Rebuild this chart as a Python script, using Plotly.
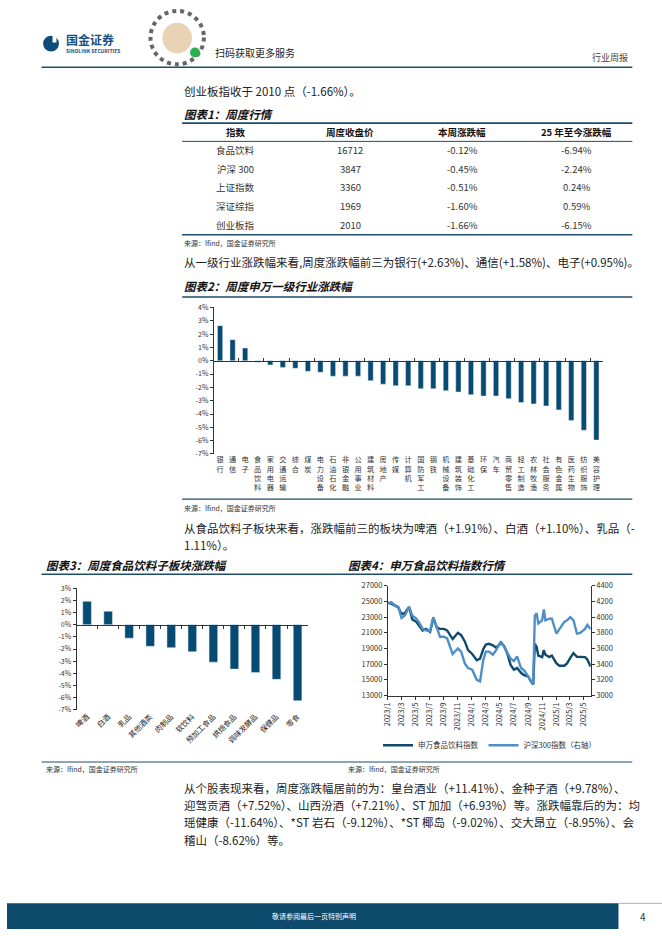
import plotly.graph_objects as go

W, H = 662, 936


def px(x):
    return x / W


def py(y):
    return 1 - y / H


FONT = "Noto Sans CJK SC"
BAR = "#074a72"
LINEC = "#1d4d6b"
TXT = "#222222"

# ---------------- data ----------------
TABLE_HEADERS = ["指数", "周度收盘价", "本周涨跌幅", "25 年至今涨跌幅"]
TABLE_INDEX = ["食品饮料", "沪深 300", "上证指数", "深证综指", "创业板指"]
TABLE_CLOSE = ["16712", "3847", "3360", "1969", "2010"]
TABLE_WEEK = ["-0.12%", "-0.45%", "-0.51%", "-1.60%", "-1.66%"]
TABLE_YTD = ["-6.94%", "-2.24%", "0.24%", "0.59%", "-6.15%"]

INDUSTRIES = ["银行", "通信", "电子", "食品饮料", "家用电器", "交通运输", "综合", "煤炭",
              "电力设备", "石油石化", "非银金融", "公用事业", "建筑材料", "房地产", "传媒",
              "计算机", "国防军工", "钢铁", "机械设备", "建筑装饰", "基础化工", "环保", "汽车",
              "商贸零售", "轻工制造", "农林牧渔", "社会服务", "有色金属", "医药生物", "纺织服饰",
              "美容护理"]
IND_CHG = [2.63, 1.58, 0.95, -0.12, -0.32, -0.50, -0.57, -0.80,
           -0.87, -1.16, -1.16, -1.16, -1.50, -1.76, -1.88,
           -1.88, -2.10, -2.10, -2.25, -2.35, -2.55, -2.65, -2.65,
           -2.85, -3.14, -3.24, -3.39, -3.69, -4.48, -5.22, -5.96]
IND_YTICKS = [4, 3, 2, 1, 0, -1, -2, -3, -4, -5, -6, -7]
IND_YLABELS = ["4%", "3%", "2%", "1%", "0%", "-1%", "-2%", "-3%", "-4%", "-5%", "-6%", "-7%"]

SUBSECTORS = ["啤酒", "白酒", "乳品", "其他酒类", "肉制品", "软饮料", "预加工食品",
              "烘焙食品", "调味发酵品", "保健品", "零食"]
SUB_CHG = [1.91, 1.10, -1.11, -1.78, -1.89, -2.22, -3.08, -3.65, -3.92, -4.49, -6.24]
SUB_YTICKS = [3, 2, 1, 0, -1, -2, -3, -4, -5, -6, -7]
SUB_YLABELS = ["3%", "2%", "1%", "0%", "-1%", "-2%", "-3%", "-4%", "-5%", "-6%", "-7%"]

DATES = ["2023-01-03", "2023-01-16", "2023-02-01", "2023-02-15", "2023-03-01", "2023-03-15",
         "2023-04-03", "2023-04-17", "2023-05-04", "2023-05-15", "2023-06-01", "2023-06-15",
         "2023-07-03", "2023-07-17", "2023-08-01", "2023-08-15", "2023-09-01", "2023-09-15",
         "2023-10-09", "2023-10-23", "2023-11-01", "2023-11-15", "2023-12-01", "2023-12-15",
         "2024-01-02", "2024-01-22", "2024-02-05", "2024-02-19", "2024-03-01", "2024-03-15",
         "2024-04-01", "2024-04-15", "2024-05-06", "2024-05-20", "2024-06-03", "2024-06-17",
         "2024-07-01", "2024-07-15", "2024-08-01", "2024-08-15", "2024-09-02", "2024-09-13",
         "2024-09-23", "2024-09-30", "2024-10-08", "2024-10-15", "2024-11-01", "2024-11-08",
         "2024-11-15", "2024-12-02", "2024-12-13", "2025-01-02", "2025-01-15", "2025-02-05",
         "2025-02-17", "2025-03-03", "2025-03-17", "2025-04-01", "2025-04-15", "2025-05-06",
         "2025-05-16", "2025-05-30"]
FOOD_IDX = [24900, 24700, 24450, 24250, 23400, 23500,
            24300, 22700, 22400, 22000, 21300, 21500,
            21100, 22900, 21700, 21500, 21500, 21300,
            20200, 20700, 21000, 20700, 19900, 18800,
            18300, 17500, 17700, 18900, 19500, 19600,
            19400, 19100, 19700, 19300, 18300, 16900,
            16300, 16500, 15900, 15600, 15400, 14800,
            14400, 19600, 19200, 18100, 17900, 18800,
            18200, 17900, 18100, 17100, 16800, 16800,
            17100, 17800, 18400, 17950, 17900, 17900,
            17600, 16712]
HS300 = [4170, 4190, 4150, 4130, 3990, 4020,
         4130, 4020, 3980, 3940, 3850, 3830,
         3820, 4000, 3870, 3750, 3750, 3730,
         3530, 3580, 3600, 3560, 3410, 3350,
         3330, 3200, 3180, 3450, 3560, 3560,
         3520, 3580, 3690, 3620, 3550, 3470,
         3440, 3500, 3350, 3320, 3240, 3180,
         3140, 4020, 4050, 3920, 3960, 4100,
         3960, 3980, 3980, 3790, 3850, 3940,
         3960, 4000, 3960, 3790, 3800, 3850,
         3900, 3847]
DATE_TICKS = ["2023/1", "2023/3", "2023/5", "2023/7", "2023/9", "2023/11", "2024/1", "2024/3",
              "2024/5", "2024/7", "2024/9", "2024/11", "2025/1", "2025/3", "2025/5"]
LEFT_TICKS = [13000, 15000, 17000, 19000, 21000, 23000, 25000, 27000]
RIGHT_TICKS = [3000, 3200, 3400, 3600, 3800, 4000, 4200, 4400]

DATE_TICKVALS = ["%s-%02d-01" % (t.split("/")[0], int(t.split("/")[1])) for t in DATE_TICKS]

# ---------------- figure ----------------
fig = go.Figure()

fig.add_trace(go.Bar(x=INDUSTRIES, y=IND_CHG, marker_color=BAR, width=0.42,
                     xaxis="x", yaxis="y", showlegend=False, hoverinfo="x+y"))
fig.add_trace(go.Scatter(x=INDUSTRIES, y=[0] * len(INDUSTRIES), mode="markers",
                         marker=dict(opacity=0), xaxis="x5", yaxis="y",
                         showlegend=False, hoverinfo="skip"))
fig.add_trace(go.Bar(x=SUBSECTORS, y=SUB_CHG, marker_color=BAR, width=0.41,
                     xaxis="x2", yaxis="y2", showlegend=False))
fig.add_trace(go.Scatter(x=SUBSECTORS, y=[0] * len(SUBSECTORS), mode="markers",
                         marker=dict(opacity=0), xaxis="x6", yaxis="y2",
                         showlegend=False, hoverinfo="skip"))
fig.add_trace(go.Scatter(x=DATES, y=FOOD_IDX, mode="lines", name="申万食品饮料指数",
                         line=dict(color="#0f4a6b", width=2.4), xaxis="x3", yaxis="y3"))
fig.add_trace(go.Scatter(x=DATES, y=HS300, mode="lines", name="沪深300指数（右轴）",
                         line=dict(color="#4f8fc8", width=2.4), xaxis="x3", yaxis="y4"))

tickfont = dict(family=FONT, size=7, color="#333")

# chart 2 domain
c2x = [px(209), px(602)]
c2y = [py(453.3), py(305)]
zero2 = 305 + (4 / 11) * (453.3 - 305)
# chart 3 domain
c3x = [px(70.3), px(304.3)]
c3y = [py(712.3), py(589)]
zero3 = 589 + (3 / 10) * (712.3 - 589)
# chart 4 domain
c4x = [px(385), px(590)]
c4y = [py(697.7), py(586.7)]

vert_labels = ["<br>".join(list(n)) for n in INDUSTRIES]

fig.update_layout(
    width=W, height=H, margin=dict(l=0, r=0, t=0, b=0),
    paper_bgcolor="white", plot_bgcolor="white",
    font=dict(family=FONT, color=TXT),
    barmode="overlay",
    xaxis=dict(domain=c2x, anchor="y", type="category", range=[-0.5, 30.5],
               tickmode="array", tickvals=INDUSTRIES, ticktext=vert_labels,
               showline=False, ticks="", tickfont=dict(family=FONT, size=7.2, color="#333"),
               showgrid=False, zeroline=False, tickangle=0),
    xaxis5=dict(overlaying="x", anchor="free", position=py(zero2), type="category",
                range=[-0.5, 30.5], showline=True, linecolor="#333", linewidth=1,
                ticks="inside", ticklen=3, tickcolor="#333", tickson="boundaries",
                showticklabels=False, showgrid=False, zeroline=False),
    yaxis=dict(domain=c2y, anchor="x", range=[-7, 4], tickmode="array",
               tickvals=IND_YTICKS, ticktext=IND_YLABELS, showline=True,
               linecolor="#333", linewidth=1, ticks="outside", ticklen=3,
               tickcolor="#333", showgrid=False, zeroline=False, tickfont=tickfont),
    xaxis2=dict(domain=c3x, anchor="y2", type="category", range=[-0.5, 10.5],
                showline=False, ticks="", tickangle=-45,
                tickfont=dict(family=FONT, size=7.5, color="#222"),
                showgrid=False, zeroline=False),
    xaxis6=dict(overlaying="x2", anchor="free", position=py(zero3), type="category",
                range=[-0.5, 10.5], showline=True, linecolor="#333", linewidth=1,
                ticks="outside", ticklen=3, tickcolor="#333", tickson="boundaries",
                showticklabels=False, showgrid=False, zeroline=False),
    yaxis2=dict(domain=c3y, anchor="x2", range=[-7, 3], tickmode="array",
                tickvals=SUB_YTICKS, ticktext=SUB_YLABELS, showline=True,
                linecolor="#333", linewidth=1, ticks="outside", ticklen=3,
                tickcolor="#333", showgrid=False, zeroline=False, tickfont=tickfont),
    xaxis3=dict(domain=c4x, anchor="y3", type="date", range=["2023-01-01", "2025-05-31"],
                tickmode="array", tickvals=DATE_TICKVALS, ticktext=DATE_TICKS,
                tickangle=-90, showline=True, linecolor="#333", linewidth=1,
                ticks="outside", ticklen=3, tickcolor="#333", showgrid=False,
                zeroline=False, tickfont=dict(family=FONT, size=7.5, color="#333")),
    yaxis3=dict(domain=c4y, anchor="x3", range=[13000, 27000], tickmode="array",
                tickvals=LEFT_TICKS, tickformat="d", showline=True, linecolor="#333",
                linewidth=1, ticks="outside", ticklen=3, tickcolor="#333",
                showgrid=False, zeroline=False,
                tickfont=dict(family=FONT, size=7.5, color="#333")),
    yaxis4=dict(overlaying="y3", anchor="x3", side="right", range=[3000, 4400],
                tickmode="array", tickvals=RIGHT_TICKS, tickformat="d", showline=True,
                linecolor="#333", linewidth=1, ticks="outside", ticklen=3,
                tickcolor="#333", showgrid=False, zeroline=False,
                tickfont=dict(family=FONT, size=7.5, color="#333")),
    legend=dict(orientation="h", x=px(375), y=py(748), xanchor="left", yanchor="middle",
                font=dict(family=FONT, size=7.5, color="#333"), itemwidth=30,
                bgcolor="rgba(0,0,0,0)"),
)

shapes = []
annotations = []


def hline(x0, x1, y, width=1.0, color=LINEC):
    shapes.append(dict(type="line", xref="paper", yref="paper", x0=px(x0), x1=px(x1),
                       y0=py(y), y1=py(y), line=dict(color=color, width=width)))


def text(x, y, s, size=11.5, color=TXT, anchor="left", bold=False, italic=False):
    if italic:
        s = "<i>" + s + "</i>"
    if bold:
        s = "<b>" + s + "</b>"
    annotations.append(dict(xref="paper", yref="paper", x=px(x), y=py(y), text=s,
                            showarrow=False, xanchor=anchor, yanchor="middle",
                            font=dict(family=FONT, size=size, color=color)))


# ---------- header ----------
shapes.append(dict(type="circle", xref="paper", yref="paper", x0=px(36.5), x1=px(52.5),
                   y0=py(46), y1=py(30), fillcolor="#0d4c7a", line=dict(width=0)))
shapes.append(dict(type="rect", xref="paper", yref="paper", x0=px(46), x1=px(50),
                   y0=py(37), y1=py(30), fillcolor="white", line=dict(width=0)))
text(58, 34, "国金证券", size=12, color="#1a5080", bold=True)
text(58, 45.5, "SINOLINK SECURITIES", size=5, color="#1a5080", bold=True)
# QR mini-program badge
shapes.append(dict(type="circle", xref="paper", yref="paper", x0=px(145), x1=px(199),
                   y0=py(59), y1=py(5), fillcolor="white",
                   line=dict(color="#666", width=4, dash="dot")))
shapes.append(dict(type="circle", xref="paper", yref="paper", x0=px(157), x1=px(187),
                   y0=py(48), y1=py(17), fillcolor="#ead3b4", line=dict(width=0)))
shapes.append(dict(type="circle", xref="paper", yref="paper", x0=px(185), x1=px(195),
                   y0=py(52), y1=py(42), fillcolor="#2bb24c", line=dict(width=0)))
text(208, 47, "扫码获取更多服务", size=10, color="#222")
text(589, 52, "行业周报", size=9, color="#444")
hline(35, 632, 62, width=1.5)

# ---------- intro / table ----------
text(177, 86, "创业板指收于 2010 点（-1.66%）。", size=11.5)
text(177, 109, "图表1：周度行情", size=11.5, color="#111", bold=True, italic=True)
hline(177, 632, 118.5, width=1.6)
hline(177, 632, 137, width=1.0)
hline(177, 632, 231.5, width=1.6)
col_x = [231, 347, 460, 576]
for cx, h in zip(col_x, TABLE_HEADERS):
    text(cx, 127, h, size=9.5, color="#111", anchor="center", bold=True)
row_y = [146, 164.5, 183, 202.5, 221.5]
for i, ry in enumerate(row_y):
    for cx, col in zip(col_x, [TABLE_INDEX, TABLE_CLOSE, TABLE_WEEK, TABLE_YTD]):
        text(cx, ry, col[i], size=9.5, color="#333", anchor="center")
text(177, 240, "来源：Ifind，国金证券研究所", size=7, color="#333")

# ---------- chart 2 ----------
text(177, 259, "从一级行业涨跌幅来看,周度涨跌幅前三为银行(+2.63%)、通信(+1.58%)、电子(+0.95%)。",
     size=11.5)
text(177, 283, "图表2：周度申万一级行业涨跌幅", size=11.5, color="#111", bold=True, italic=True)
hline(177, 632, 294.5, width=1.5)
hline(177, 632, 499, width=1.2)
text(177, 508, "来源：Ifind，国金证券研究所", size=7, color="#333")

# ---------- chart 3 & 4 ----------
text(177, 528, "从食品饮料子板块来看，涨跌幅前三的板块为啤酒（+1.91%）、白酒（+1.10%）、乳品（-",
     size=11.5)
text(177, 545, "1.11%）。", size=11.5)
text(37, 566, "图表3：周度食品饮料子板块涨跌幅", size=11.5, color="#111", bold=True, italic=True)
text(343, 566, "图表4：申万食品饮料指数行情", size=11.5, color="#111", bold=True, italic=True)
hline(35, 632, 575, width=1.3)
hline(35, 632, 765, width=1.2)
text(37, 772, "来源：Ifind，国金证券研究所", size=7, color="#333")
text(343, 772, "来源：Ifind，国金证券研究所", size=7, color="#333")

# ---------- paragraph ----------
para = ["从个股表现来看，周度涨跌幅居前的为：皇台酒业（+11.41%）、金种子酒（+9.78%）、",
        "迎驾贡酒（+7.52%）、山西汾酒（+7.21%）、ST 加加（+6.93%）等。涨跌幅靠后的为：均",
        "瑶健康（-11.64%）、*ST 岩石（-9.12%）、*ST 椰岛（-9.02%）、交大昂立（-8.95%）、会",
        "稽山（-8.62%）等。"]
for i, line in enumerate(para):
    text(177, 791 + i * 17.5, line, size=11.5)

# ---------- footer ----------
shapes.append(dict(type="rect", xref="paper", yref="paper", x0=0, x1=px(618),
                   y0=py(934), y1=py(908), fillcolor="#0e4a6c", line=dict(width=0)))
hline(618, 662, 908, width=0.8, color="#999")
text(310, 921, "敬请参阅最后一页特别声明", size=7, color="white", anchor="center")
text(643, 921, "4", size=10, color="#333", anchor="center")

fig.update_layout(shapes=shapes, annotations=annotations)

fig.write_html("out.html", config={"displayModeBar": False},
               post_script="document.body.style.margin='0';")
